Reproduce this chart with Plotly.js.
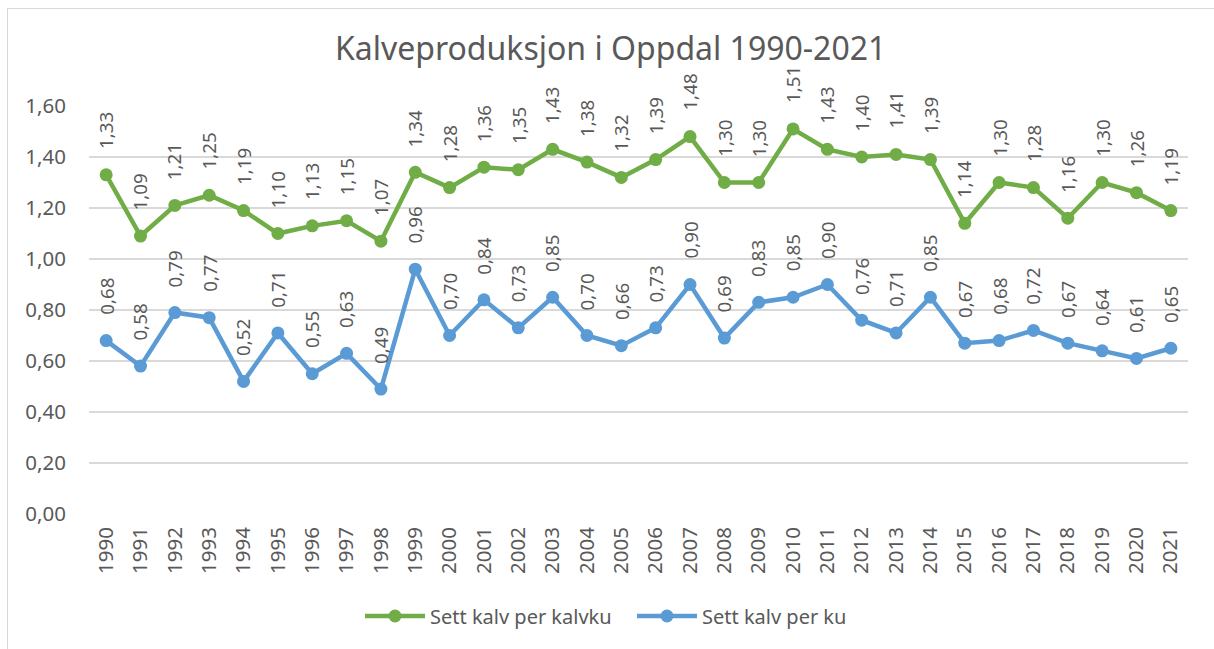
<!DOCTYPE html>
<html>
<head>
<meta charset="utf-8">
<script src="https://cdn.plot.ly/plotly-3.0.1.min.js"></script>
<style>
  body { margin: 0; padding: 0; background: #fff; }
  #wrap { position: relative; width: 1214px; height: 649px; overflow: hidden; }
  #chart { position: absolute; left: 0; top: 0; width: 1214px; height: 649px; }
  #border { position: absolute; left: 7px; top: 8px; width: 1220px; height: 660px; border: 1px solid #d9d9d9; pointer-events: none; }
</style>
</head>
<body>
<div id="wrap"><div id="chart"></div><div id="border"></div></div>
<script>
const years = ["1990","1991","1992","1993","1994","1995","1996","1997","1998","1999","2000","2001","2002","2003","2004","2005","2006","2007","2008","2009","2010","2011","2012","2013","2014","2015","2016","2017","2018","2019","2020","2021"];
const kalvPerKalvku = [1.33,1.09,1.21,1.25,1.19,1.10,1.13,1.15,1.07,1.34,1.28,1.36,1.35,1.43,1.38,1.32,1.39,1.48,1.30,1.30,1.51,1.43,1.40,1.41,1.39,1.14,1.30,1.28,1.16,1.30,1.26,1.19];
const kalvPerKu = [0.68,0.58,0.79,0.77,0.52,0.71,0.55,0.63,0.49,0.96,0.70,0.84,0.73,0.85,0.70,0.66,0.73,0.90,0.69,0.83,0.85,0.90,0.76,0.71,0.85,0.67,0.68,0.72,0.67,0.64,0.61,0.65];
const seriesNames = ["Sett kalv per kalvku", "Sett kalv per ku"];
const colors = ["#70AD47", "#5B9BD5"];
const FONT = "Noto Sans, Liberation Sans, sans-serif";
const GREY = "#595959";

const fmt = v => v.toFixed(2).replace('.', ',');

const traces = [kalvPerKalvku, kalvPerKu].map((vals, i) => ({
  x: years, y: vals, name: seriesNames[i], type: 'scatter', mode: 'lines+markers',
  line: { color: colors[i], width: 4.5 },
  marker: { color: colors[i], size: 13 },
  hoverinfo: 'skip'
}));

const annotations = [];
[kalvPerKalvku, kalvPerKu].forEach(vals => {
  vals.forEach((v, j) => {
    annotations.push({
      x: j, y: v, xref: 'x', yref: 'y', text: fmt(v), showarrow: false,
      textangle: -90, xanchor: 'center', yanchor: 'middle', yshift: 44,
      font: { family: FONT, size: 18.8, color: GREY }
    });
  });
});

const layout = {
  width: 1214, height: 649,
  margin: { l: 89, r: 26, t: 106, b: 135 },
  paper_bgcolor: 'rgba(0,0,0,0)', plot_bgcolor: '#fff',
  separators: ', ',
  title: { text: 'Kalveproduksjon i Oppdal 1990-2021', x: 0.503, xanchor: 'center', y: 0.925, yanchor: 'middle',
           font: { family: FONT, size: 32, color: GREY } },
  xaxis: { type: 'category', range: [-0.5, years.length - 0.5], autorange: false,
           tickangle: -90, showgrid: false, zeroline: false, showline: false,
           ticks: '', ticklabelstandoff: 8, tickfont: { family: FONT, size: 20.5, color: GREY } },
  yaxis: { range: [0, 1.6], autorange: false, dtick: 0.2, tickformat: '.2f', gridcolor: '#d9d9d9', gridwidth: 1.3,
           zeroline: false, showline: false, ticks: '', ticklabelstandoff: 22,
           tickfont: { family: FONT, size: 20.5, color: GREY } },
  legend: { orientation: 'h', x: 0.2466, xanchor: 'left', y: -0.25, yanchor: 'middle',
            entrywidth: 197, entrywidthmode: 'pixels',
            font: { family: FONT, size: 20, color: GREY }, itemwidth: 60 },
  annotations: annotations,
  showlegend: true
};

Plotly.newPlot('chart', traces, layout, { displayModeBar: false, staticPlot: true });
</script>
</body>
</html>
